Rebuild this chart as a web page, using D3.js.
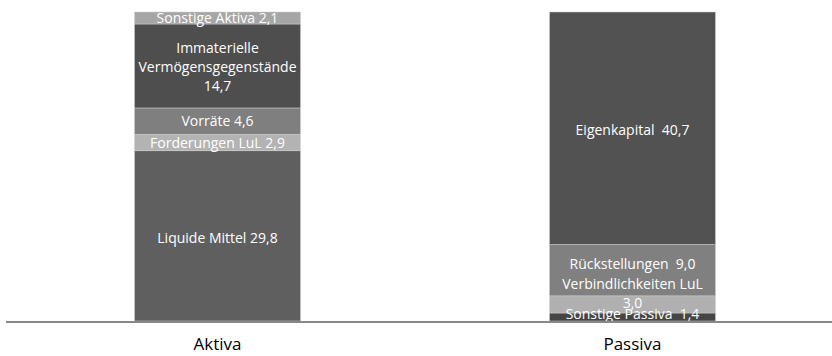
<!DOCTYPE html>
<html>
<head>
<meta charset="utf-8">
<script src="https://cdn.jsdelivr.net/npm/d3@7"></script>
<style>
  html, body { margin: 0; padding: 0; background: #fff; }
  svg { display: block; }
</style>
</head>
<body>
<svg id="chart" width="832" height="356"></svg>
<script>
// ---- data ----
const categories = ["Aktiva", "Passiva"];
const aktivaLabels = ["Liquide Mittel", "Forderungen LuL", "Vorräte", "Immaterielle Vermögensgegenstände", "Sonstige Aktiva"];
const aktivaValues = [29.8, 2.9, 4.6, 14.7, 2.1];
const aktivaColors = ["#5f5f5f", "#b3b3b3", "#7f7f7f", "#4e4e4e", "#a6a6a6"];
const passivaLabels = ["Sonstige Passiva", "Verbindlichkeiten LuL", "Rückstellungen", "Eigenkapital"];
const passivaValues = [1.4, 3.0, 9.0, 40.7];
const passivaColors = ["#454545", "#b0b0b0", "#808080", "#525252"];
// label text lines per segment
const aktivaLines = [["Liquide Mittel 29,8"], ["Forderungen LuL 2,9"], ["Vorräte 4,6"], ["Immaterielle", "Vermögensgegenstände", "14,7"], ["Sonstige Aktiva 2,1"]];
const passivaLines = [["Sonstige Passiva\u00a0 1,4"], ["Verbindlichkeiten LuL", "3,0"], ["Rückstellungen\u00a0 9,0"], ["Eigenkapital\u00a0 40,7"]];

const svg = d3.select("#chart");
const baseY = 321, topY = 12;
const total = d3.sum(aktivaValues);

const x = d3.scaleBand().domain(categories).range([10, 840]).paddingInner(0.6).paddingOuter(0.3);
const y = d3.scaleLinear().domain([0, total]).range([baseY, topY]);

function stackSeg(vals) {
  let acc = 0;
  return vals.map(v => { const s = {y0: acc, y1: acc + v}; acc += v; return s; });
}

const groups = [
  {cat: "Aktiva", values: aktivaValues, colors: aktivaColors, lines: aktivaLines, shift: [2, 0, 0, 1, 0], order: [0, 1, 2, 3, 4]},
  {cat: "Passiva", values: passivaValues, colors: passivaColors, lines: passivaLines, shift: [-3, -11, -6, 2], order: [1, 0, 2, 3]}
];

const lineH = 19;
groups.forEach(g => {
  const segs = stackSeg(g.values);
  const gg = svg.append("g");
  gg.selectAll("rect").data(segs).join("rect")
    .attr("x", x(g.cat))
    .attr("width", x.bandwidth())
    .attr("y", d => y(d.y1))
    .attr("height", d => y(d.y0) - y(d.y1))
    .attr("fill", (d, i) => g.colors[i])
    .attr("stroke", "#d0d0d0")
    .attr("stroke-width", 0.5);
  g.order.forEach(i => {
    const s = segs[i];
    const cy = (y(s.y0) + y(s.y1)) / 2 + g.shift[i];
    const lines = g.lines[i];
    const n = lines.length;
    const t = gg.append("text")
      .attr("text-anchor", "middle")
      .attr("fill", "#ffffff")
      .style("font-family", "'Open Sans', sans-serif")
      .style("font-size", "14px");
    lines.forEach((ln, k) => {
      t.append("tspan")
        .attr("x", x(g.cat) + x.bandwidth() / 2)
        .attr("y", cy + (k - (n - 1) / 2) * lineH + 5)
        .text(ln);
    });
  });
});

// axis baseline
svg.append("line")
  .attr("x1", 6).attr("x2", 832)
  .attr("y1", baseY + 1).attr("y2", baseY + 1)
  .attr("stroke", "#888888").attr("stroke-width", 2);

// category labels
svg.selectAll("text.cat").data(categories).join("text")
  .attr("class", "cat")
  .attr("x", d => x(d) + x.bandwidth() / 2)
  .attr("y", 350)
  .attr("text-anchor", "middle")
  .attr("fill", "#000")
  .style("font-family", "'Open Sans', sans-serif")
  .style("font-size", "17px")
  .text(d => d);
</script>
</body>
</html>
